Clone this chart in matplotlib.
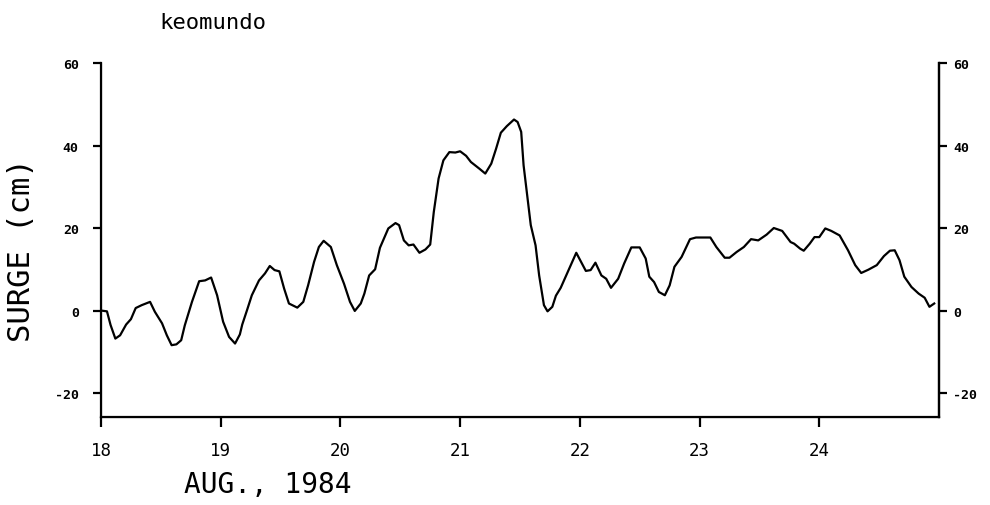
import matplotlib
matplotlib.use("Agg")
import matplotlib.pyplot as plt

# Hourly-ish storm surge record at Keomundo, 18-25 Aug 1984
day = [18.00, 18.05, 18.08, 18.12, 18.16, 18.21, 18.25, 18.29, 18.34, 18.41,
       18.45, 18.51, 18.55, 18.59, 18.63, 18.67, 18.70, 18.76, 18.82, 18.87,
       18.92, 18.97, 19.02, 19.07, 19.12, 19.16, 19.18, 19.22, 19.26, 19.32,
       19.37, 19.41, 19.45, 19.49, 19.53, 19.57, 19.64, 19.69, 19.73, 19.78,
       19.82, 19.86, 19.92, 19.97, 20.03, 20.08, 20.12, 20.17, 20.20, 20.24,
       20.29, 20.33, 20.40, 20.46, 20.49, 20.53, 20.57, 20.61, 20.66, 20.71,
       20.75, 20.78, 20.82, 20.86, 20.91, 20.96, 21.00, 21.05, 21.09, 21.16,
       21.21, 21.26, 21.30, 21.34, 21.39, 21.45, 21.48, 21.51, 21.53, 21.56,
       21.59, 21.63, 21.66, 21.70, 21.73, 21.77, 21.80, 21.84, 21.90, 21.97,
       22.01, 22.05, 22.09, 22.13, 22.18, 22.22, 22.26, 22.32, 22.37, 22.43,
       22.50, 22.55, 22.58, 22.62, 22.66, 22.71, 22.75, 22.79, 22.85, 22.92,
       22.97, 23.03, 23.09, 23.14, 23.21, 23.25, 23.31, 23.37, 23.43, 23.49,
       23.56, 23.62, 23.69, 23.76, 23.79, 23.84, 23.87, 23.92, 23.96, 24.00,
       24.05, 24.10, 24.17, 24.24, 24.30, 24.35, 24.41, 24.48, 24.54, 24.59,
       24.63, 24.67, 24.71, 24.77, 24.83, 24.88, 24.92, 24.96]
surge = [0.0, -0.2, -3.5, -6.8, -6.0, -3.4, -2.1, 0.6, 1.3, 2.1,
         -0.3, -3.1, -6.0, -8.4, -8.2, -7.2, -3.6, 2.1, 7.1, 7.3,
         8.0, 3.7, -2.7, -6.4, -8.0, -5.8, -3.4, 0.1, 3.7, 7.3,
         9.0, 10.8, 9.8, 9.5, 5.3, 1.7, 0.7, 2.1, 6.1, 11.8,
         15.4, 16.9, 15.4, 11.0, 6.5, 2.1, -0.1, 1.7, 4.1, 8.5,
         10.0, 15.2, 19.9, 21.2, 20.7, 17.0, 15.8, 16.0, 14.0, 14.8,
         16.0, 23.9, 32.0, 36.4, 38.4, 38.3, 38.6, 37.5, 36.0, 34.4,
         33.2, 35.6, 39.2, 43.1, 44.7, 46.3, 45.7, 43.3, 35.2, 27.9,
         20.7, 15.8, 8.5, 1.3, -0.2, 0.9, 3.6, 5.5, 9.4, 14.0,
         11.8, 9.6, 9.8, 11.6, 8.5, 7.7, 5.5, 7.7, 11.4, 15.3,
         15.3, 12.6, 8.2, 6.9, 4.5, 3.7, 6.1, 10.6, 13.0, 17.3,
         17.7, 17.7, 17.7, 15.4, 12.8, 12.8, 14.2, 15.4, 17.3, 17.0,
         18.4, 20.0, 19.3, 16.6, 16.2, 15.0, 14.5, 16.2, 17.8, 17.8,
         19.9, 19.3, 18.2, 14.6, 11.0, 9.1, 9.9, 11.0, 13.2, 14.5,
         14.6, 12.2, 8.2, 5.7, 4.1, 3.1, 0.9, 1.7]

x_ticks = [18, 19, 20, 21, 22, 23, 24]
x_labels = ["18", "19", "20", "21", "22", "23", "24"]
y_ticks = [-20, 0, 20, 40, 60]
y_labels = ["-20", "0", "20", "40", "60"]

mono = "DejaVu Sans Mono"

fig = plt.figure(figsize=(9.9, 5.06), dpi=100)
ax = fig.add_axes([0.102, 0.174, 0.8465, 0.6995])

ax.plot(day, surge, color="black", lw=1.6)

ax.set_xlim(18, 25)
ax.set_ylim(-25.8, 60)

for side in ("left", "right", "bottom"):
    ax.spines[side].set_linewidth(1.6)
ax.spines["top"].set_visible(False)

ax.set_xticks(x_ticks)
ax.set_xticklabels(x_labels, family=mono, fontsize=12.5)
ax.tick_params(axis="x", direction="out", length=7, width=1.6, pad=10)

ax.set_yticks(y_ticks)
ax.set_yticklabels(y_labels, family=mono, fontsize=9.5, fontweight="bold")
ax.tick_params(axis="y", direction="out", length=6, width=1.6, pad=10,
               left=True, right=True, labelleft=True, labelright=False)

ax_r = ax.twinx()
ax_r.set_ylim(ax.get_ylim())
ax_r.set_yticks(y_ticks)
ax_r.set_yticklabels(y_labels, family=mono, fontsize=9.5, fontweight="bold")
ax_r.tick_params(axis="y", direction="out", length=6, width=1.6, pad=4)
ax_r.spines["top"].set_visible(False)
ax_r.spines["right"].set_linewidth(1.6)

fig.text(0.215, 0.955, "keomundo", family=mono, fontsize=16,
         ha="center", va="center")
fig.text(0.022, 0.506, "SURGE (cm)", family=mono, fontsize=22,
         rotation=90, ha="center", va="center")
fig.text(0.27, 0.041, "AUG., 1984", family=mono, fontsize=20,
         ha="center", va="center")

fig.savefig("out.png", dpi=100)
